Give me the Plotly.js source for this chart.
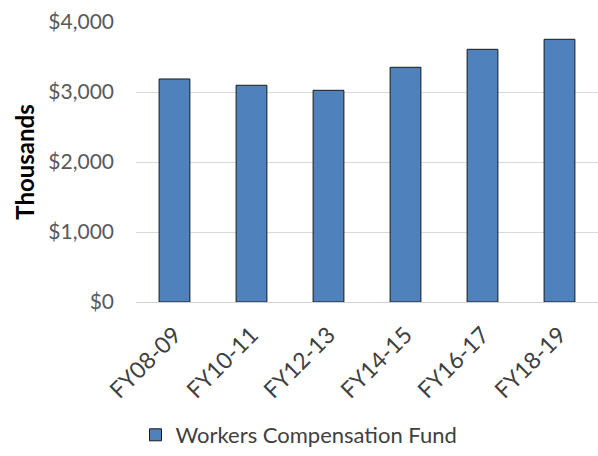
<!DOCTYPE html>
<html>
<head>
<meta charset="utf-8">
<script src="https://cdn.plot.ly/plotly-3.0.1.min.js"></script>
<style>html,body{margin:0;padding:0;background:#fff;}#chart{width:598px;height:456px;}</style>
</head>
<body>
<div id="chart"></div>
<script>
const categories = ["FY08-09", "FY10-11", "FY12-13", "FY14-15", "FY16-17", "FY18-19"];
const values = [3186, 3096, 3024, 3353, 3610, 3753];
const seriesName = "Workers Compensation Fund";
const yTicks = [0, 1000, 2000, 3000, 4000];
const yTickLabels = ["$0", "$1,000", "$2,000", "$3,000", "$4,000"];

const FONT = "Lato, 'Open Sans', sans-serif";

Plotly.newPlot("chart", [{
  type: "bar",
  x: categories,
  y: values,
  name: seriesName,
  marker: {color: "#4F81BD", line: {color: "#1a1a1a", width: 1}},
  hoverinfo: "skip"
}], {
  width: 598, height: 456,
  margin: {l: 136, r: 0, t: 22, b: 154},
  paper_bgcolor: "#fff", plot_bgcolor: "#fff",
  font: {family: FONT, size: 20, color: "#595959"},
  bargap: 0.6,
  showlegend: true,
  legend: {
    orientation: "h", xref: "container", x: 0.5, xanchor: "center",
    yref: "container", y: 0.0, yanchor: "bottom",
    font: {family: FONT, size: 22, color: "#404040"}
  },
  xaxis: {
    tickangle: -45, showgrid: false, zeroline: false,
    showline: false, ticks: "", ticklabelstandoff: 14,
    tickfont: {family: FONT, size: 23, color: "#404040"}
  },
  yaxis: {
    range: [0, 4000], tickvals: yTicks, ticktext: yTickLabels,
    showgrid: true, gridcolor: "#d9d9d9", gridwidth: 1,
    zeroline: true, zerolinecolor: "#d0d0d0", zerolinewidth: 1,
    ticks: "", ticklabelstandoff: 21,
    tickfont: {family: FONT, size: 21, color: "#595959"},
    title: {text: "<b>Thousands</b>", font: {family: FONT, size: 24, color: "#000"}, standoff: 6}
  }
}, {displayModeBar: false, staticPlot: true});
</script>
</body>
</html>
